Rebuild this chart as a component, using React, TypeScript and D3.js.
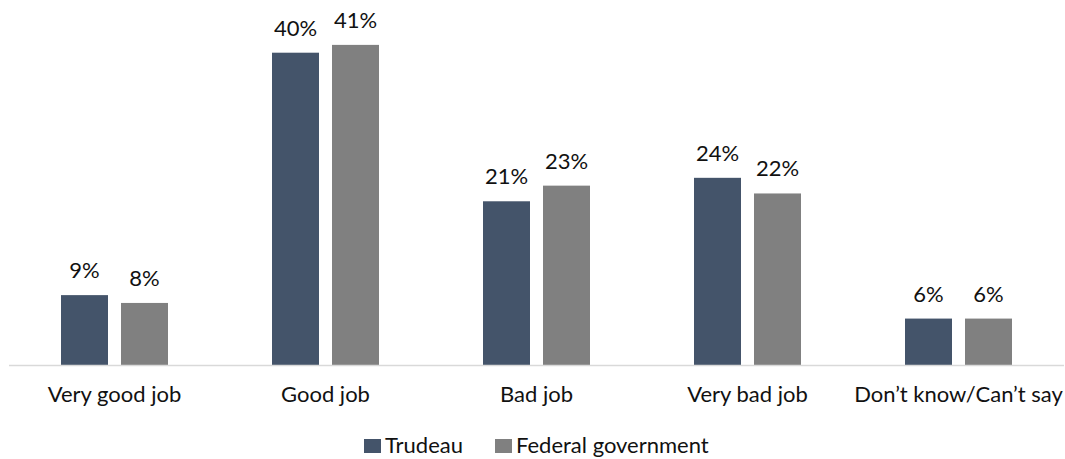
import { useEffect, useRef } from 'react';
import * as d3 from 'd3';

const categories = ['Very good job', 'Good job', 'Bad job', 'Very bad job', 'Don’t know/Can’t say'];
const seriesNames = ['Trudeau', 'Federal government'];
const trudeau = [9, 40, 21, 24, 6];
const federal = [8, 41, 23, 22, 6];
const colors = ['#44546A', '#808080'];

const App = () => {
  const svgRef = useRef<SVGSVGElement>(null);

  useEffect(() => {
    if (!svgRef.current) return;
    d3.select(svgRef.current).selectAll('*').remove();

    const width = 1065;
    const height = 459;
    const font = 'Lato, "Open Sans", sans-serif';
    const fontSize = 22;

    const svg = d3.select(svgRef.current).attr('width', width).attr('height', height);

    const x = d3.scaleBand<string>().domain(categories).range([9, 1064]).padding(0);
    const inner = d3.scaleBand<string>().domain(seriesNames).range([-53.5, 53.5]).paddingInner(0.2167).paddingOuter(0);
    const y = d3.scaleLinear().domain([0, 45]).range([365.5, 13.6]);

    const values = [trudeau, federal];

    // bars + value labels
    seriesNames.forEach((name, si) => {
      const g = svg.append('g');
      categories.forEach((cat, ci) => {
        const v = values[si][ci];
        const bx = x(cat)! + x.bandwidth() / 2 + inner(name)!;
        g.append('rect')
          .attr('x', bx)
          .attr('y', y(v))
          .attr('width', inner.bandwidth())
          .attr('height', y(0) - y(v))
          .attr('fill', colors[si]);
        g.append('text')
          .attr('x', bx + inner.bandwidth() / 2)
          .attr('y', y(v) - 17)
          .attr('text-anchor', 'middle')
          .attr('font-family', font)
          .attr('font-size', fontSize)
          .attr('fill', '#111')
          .text(`${v}%`);
      });
    });

    // axis line
    svg.append('line')
      .attr('x1', 9)
      .attr('x2', 1064)
      .attr('y1', y(0))
      .attr('y2', y(0))
      .attr('stroke', '#d9d9d9')
      .attr('stroke-width', 1.5);

    // category labels
    categories.forEach((cat) => {
      svg.append('text')
        .attr('x', x(cat)! + x.bandwidth() / 2)
        .attr('y', 402)
        .attr('text-anchor', 'middle')
        .attr('font-family', font)
        .attr('font-size', fontSize)
        .attr('fill', '#111')
        .text(cat);
    });

    // legend (kept just inside the bottom edge)
    const legendItems = [
      { name: seriesNames[0], x: 364, color: colors[0] },
      { name: seriesNames[1], x: 495, color: colors[1] },
    ];
    legendItems.forEach((item) => {
      svg.append('rect')
        .attr('x', item.x)
        .attr('y', 439)
        .attr('width', 17)
        .attr('height', 14)
        .attr('fill', item.color);
      svg.append('text')
        .attr('x', item.x + 21)
        .attr('y', 453)
        .attr('font-family', font)
        .attr('font-size', fontSize)
        .attr('fill', '#111')
        .text(item.name);
    });
  }, []);

  return (
    <div style={{ position: 'absolute', left: 0, top: 0 }}>
      <svg ref={svgRef} style={{ display: 'block', background: '#fff' }} />
    </div>
  );
};

export default App;
